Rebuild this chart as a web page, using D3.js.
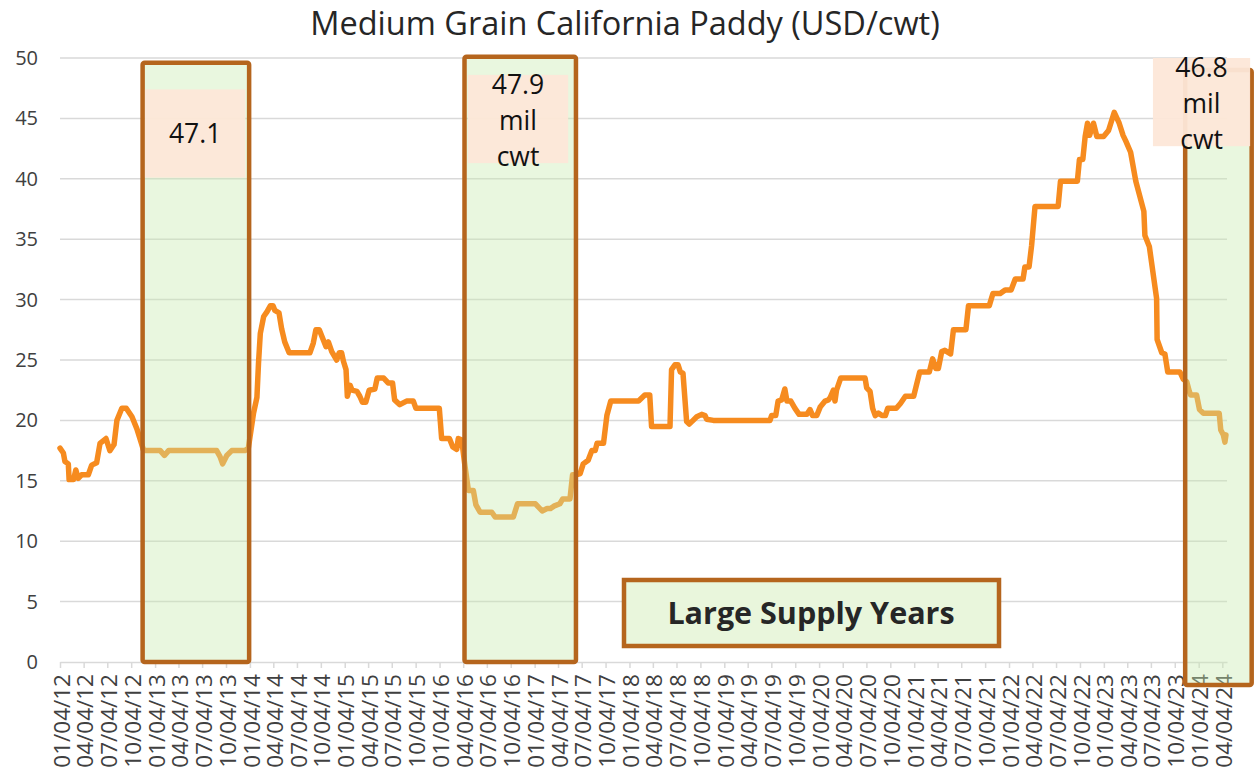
<!DOCTYPE html>
<html lang="en">
<head>
    <meta charset="UTF-8">
    <title>Medium Grain California Paddy</title>
    <script src="https://d3js.org/d3.v7.min.js"></script>
    <style>
        body { margin: 0; background: #fff; }
        text { font-family: "Open Sans", "Noto Sans", sans-serif; }
    </style>
</head>
<body>
    <script>
        // weekly-ish price points (USD/cwt)
        const dates = [
            "2012-01-04","2012-01-17","2012-01-23","2012-02-05","2012-02-08","2012-02-25","2012-03-05","2012-03-14",
            "2012-03-27","2012-04-22","2012-05-05","2012-05-24","2012-06-06","2012-06-29","2012-07-14","2012-07-30",
            "2012-08-10","2012-08-29","2012-09-15","2012-10-07","2012-10-26","2012-11-11","2012-11-21","2013-01-24",
            "2013-02-09","2013-02-25","2013-08-29","2013-09-11","2013-09-21","2013-10-07","2013-10-26","2013-12-16",
            "2013-12-29","2014-01-18","2014-01-31","2014-02-06","2014-02-13","2014-02-26","2014-03-11","2014-03-24",
            "2014-04-03","2014-04-10","2014-04-26","2014-05-06","2014-05-18","2014-06-04","2014-08-23","2014-09-05",
            "2014-09-15","2014-09-28","2014-10-11","2014-10-24","2014-11-02","2014-11-15","2014-12-04","2014-12-14",
            "2014-12-23","2014-12-30","2015-01-09","2015-01-14","2015-01-25","2015-02-01","2015-02-20","2015-03-03",
            "2015-03-13","2015-03-26","2015-04-08","2015-04-30","2015-05-09","2015-06-03","2015-06-20","2015-07-07",
            "2015-07-15","2015-08-04","2015-08-30","2015-09-25","2015-10-05","2016-01-03","2016-01-12","2016-02-11",
            "2016-02-24","2016-03-10","2016-03-16","2016-03-29","2016-04-11","2016-04-24","2016-05-13","2016-05-23",
            "2016-06-08","2016-07-23","2016-08-05","2016-10-14","2016-10-30","2017-01-07","2017-02-02","2017-02-21",
            "2017-03-06","2017-03-19","2017-04-11","2017-04-22","2017-05-20","2017-05-30","2017-06-15","2017-06-28",
            "2017-07-10","2017-07-29","2017-08-12","2017-08-25","2017-09-01","2017-09-26","2017-10-09","2017-10-24",
            "2018-02-08","2018-03-04","2018-03-23","2018-03-30","2018-06-09","2018-06-15","2018-06-28","2018-07-10",
            "2018-07-19","2018-07-29","2018-08-12","2018-08-22","2018-09-01","2018-09-20","2018-10-09","2018-10-22",
            "2018-10-28","2018-11-23","2019-06-29","2019-07-05","2019-07-21","2019-07-30","2019-08-13","2019-08-25",
            "2019-09-02","2019-09-17","2019-10-03","2019-10-19","2019-11-18","2019-11-30","2019-12-10","2019-12-26",
            "2020-01-08","2020-01-27","2020-02-09","2020-02-16","2020-02-28","2020-03-05","2020-03-11","2020-03-27",
            "2020-06-29","2020-07-05","2020-07-18","2020-07-28","2020-08-07","2020-08-19","2020-09-02","2020-09-15",
            "2020-09-24","2020-10-27","2020-11-12","2020-12-01","2021-01-02","2021-01-25","2021-03-03","2021-03-16",
            "2021-03-28","2021-04-07","2021-04-20","2021-05-02","2021-05-24","2021-06-04","2021-07-22","2021-08-01",
            "2021-10-20","2021-11-03","2021-12-01","2021-12-20","2022-01-12","2022-01-28","2022-02-27","2022-03-06",
            "2022-03-22","2022-04-01","2022-04-14","2022-07-12","2022-07-21","2022-09-24","2022-10-02","2022-10-15",
            "2022-10-24","2022-11-02","2022-11-10","2022-11-25","2022-12-08","2023-01-03","2023-01-22","2023-02-13",
            "2023-03-04","2023-03-19","2023-03-30","2023-04-17","2023-05-07","2023-06-07","2023-06-11","2023-06-28",
            "2023-07-26","2023-07-28","2023-08-15","2023-08-27","2023-09-07","2023-10-24","2023-11-06","2023-11-19",
            "2023-11-29","2023-12-04","2023-12-27","2024-01-07","2024-01-22","2024-03-23","2024-03-29","2024-04-08",
            "2024-04-14","2024-04-18"
        ];
        const prices = [
            17.7,17.3,16.6,16.4,15.1,15.1,15.9,15.2,
            15.5,15.5,16.3,16.5,18.1,18.5,17.5,18.0,
            20.0,21.0,21.0,20.3,19.3,18.2,17.5,17.5,
            17.1,17.5,17.5,17.0,16.4,17.1,17.5,17.5,
            17.7,20.6,21.9,24.7,27.2,28.6,29.0,29.5,
            29.5,29.1,28.9,27.6,26.5,25.6,25.6,26.4,
            27.5,27.5,26.8,26.1,26.5,25.7,25.0,25.6,
            25.6,24.9,24.2,22.0,22.9,22.5,22.4,22.0,
            21.5,21.5,22.5,22.6,23.5,23.5,23.1,23.1,
            21.7,21.3,21.6,21.6,21.0,21.0,18.5,18.5,
            17.8,17.6,18.5,18.4,16.2,14.2,14.2,13.0,
            12.4,12.4,12.0,12.0,13.1,13.1,12.5,12.7,
            12.7,12.9,13.1,13.5,13.5,15.5,15.5,15.6,
            16.4,16.7,17.5,17.5,18.1,18.1,20.4,21.6,
            21.6,22.1,22.1,19.5,19.5,24.2,24.6,24.6,
            24.0,23.9,19.9,19.7,19.9,20.3,20.5,20.4,
            20.1,20.0,20.0,20.4,20.4,21.6,21.7,22.6,
            21.6,21.6,21.0,20.5,20.5,20.9,20.4,20.4,
            21.1,21.6,21.7,21.9,22.5,21.6,22.5,23.5,
            23.5,22.7,22.4,21.0,20.4,20.6,20.4,20.4,
            21.0,21.0,21.4,22.0,22.0,24.0,24.0,25.1,
            24.3,24.3,25.7,25.8,25.5,27.5,27.5,29.5,
            29.5,30.5,30.5,30.8,30.8,31.7,31.7,32.7,
            32.7,34.5,37.7,37.7,39.8,39.8,41.6,41.6,
            43.5,44.6,43.6,44.6,43.5,43.5,44.0,45.5,
            44.6,43.6,43.1,42.2,39.8,37.3,35.3,34.4,
            30.1,26.7,25.6,25.5,24.0,24.0,23.4,23.2,
            22.4,22.1,22.1,20.9,20.6,20.6,19.2,18.8,
            18.2,18.8
        ];

        // large supply years (shaded boxes) and their crop size notes
        const supplyStart = ["2012-11-17", "2016-04-09", "2023-11-13"];
        const supplyEnd   = ["2014-01-01", "2017-06-12", "2024-07-26"];
        const supplyTop   = [49.6, 50.1, 49.0];
        const supplyBottom = [0, 0, -1.9];
        const cropLabels  = [["47.1"], ["47.9", "mil", "cwt"], ["46.8", "mil", "cwt"]];

        const yTicks = [0, 5, 10, 15, 20, 25, 30, 35, 40, 45, 50];
        const firstTick = "2012-01-04";
        const tickCount = 50; // quarterly labels 01/04/12 .. 04/04/24

        const width = 1255, height = 769;
        const parse = d3.timeParse("%Y-%m-%d");
        const fmt = d3.timeFormat("%m/%d/%y");

        const svg = d3.select("body").append("svg")
            .attr("width", width)
            .attr("height", height);

        const x = d3.scaleTime()
            .domain([parse("2012-01-04"), parse("2024-04-22")])
            .range([60, 1227]);
        const y = d3.scaleLinear()
            .domain([0, 50])
            .range([662, 58]);

        // title
        svg.append("text")
            .attr("x", 625).attr("y", 35)
            .attr("text-anchor", "middle")
            .style("font-size", "32.5px")
            .style("fill", "#262626")
            .text("Medium Grain California Paddy (USD/cwt)");

        // horizontal gridlines
        svg.append("g")
            .selectAll("line")
            .data(yTicks.filter(d => d > 0))
            .join("line")
            .attr("x1", 60).attr("x2", 1227)
            .attr("y1", d => y(d)).attr("y2", d => y(d))
            .attr("stroke", "#d9d9d9")
            .attr("stroke-width", 1.5);

        // y axis labels
        const yAxis = svg.append("g")
            .attr("transform", "translate(60,0)")
            .call(d3.axisLeft(y).tickValues(yTicks).tickSize(0).tickPadding(22));
        yAxis.select(".domain").remove();
        yAxis.selectAll("text")
            .style("font-size", "20px")
            .style("fill", "#404040")
            .style("font-family", "'Open Sans', sans-serif");

        // x axis
        const tickDates = d3.range(tickCount).map(i => d3.timeMonth.offset(parse(firstTick), 3 * i));
        const xAxis = svg.append("g")
            .attr("transform", `translate(0,${y(0)})`)
            .call(d3.axisBottom(x).tickValues(tickDates).tickFormat(fmt).tickSize(6).tickSizeOuter(0));
        xAxis.select(".domain").attr("stroke", "#d9d9d9").attr("stroke-width", 1.5);
        xAxis.selectAll(".tick line").attr("stroke", "#d9d9d9").attr("stroke-width", 1.5);
        xAxis.selectAll("text")
            .attr("transform", "rotate(-90)")
            .attr("text-anchor", "end")
            .attr("x", -12)
            .attr("y", 1)
            .attr("dy", "0.36em")
            .style("font-size", "22.5px")
            .style("fill", "#404040")
            .style("font-family", "'Open Sans', sans-serif");

        // price line
        const series = dates.map((d, i) => ({ date: parse(d), value: prices[i] }));
        const line = d3.line()
            .x(d => x(d.date))
            .y(d => y(d.value));

        svg.append("path")
            .datum(series)
            .attr("d", line)
            .attr("fill", "none")
            .attr("stroke", "#f68b1f")
            .attr("stroke-width", 5.5)
            .attr("stroke-linejoin", "round")
            .attr("stroke-linecap", "round");

        // large supply boxes drawn over the line
        const boxes = supplyStart.map((s, i) => ({
            x0: x(parse(s)), x1: x(parse(supplyEnd[i])),
            y0: y(supplyTop[i]), y1: y(supplyBottom[i]),
            lines: cropLabels[i]
        }));

        const boxG = svg.append("g");
        boxG.selectAll("rect.fill")
            .data(boxes)
            .join("rect")
            .attr("class", "fill")
            .attr("x", d => d.x0).attr("y", d => d.y0)
            .attr("width", d => d.x1 - d.x0).attr("height", d => d.y1 - d.y0)
            .attr("fill", "#c9eab0")
            .attr("fill-opacity", 0.4);
        boxG.selectAll("rect.edge")
            .data(boxes)
            .join("rect")
            .attr("class", "edge")
            .attr("x", d => d.x0).attr("y", d => d.y0)
            .attr("width", d => d.x1 - d.x0).attr("height", d => d.y1 - d.y0)
            .attr("rx", 2)
            .attr("fill", "none")
            .attr("stroke", "#b5651d")
            .attr("stroke-width", 4.5);

        // crop size notes (pink text boxes)
        const noteX0 = [d3.timeDay.offset(parse(supplyStart[0]), 9), d3.timeDay.offset(parse(supplyStart[1]), 13), parse("2023-07-12")];
        const noteX1 = [d3.timeDay.offset(parse(supplyEnd[0]), -15), d3.timeDay.offset(parse(supplyEnd[1]), -30), parse("2024-07-20")];
        const noteTop = [47.4, 48.6, 50.0];
        const noteBottom = [40.1, 41.3, 42.7];

        boxes.forEach((b, i) => {
            const nx0 = x(noteX0[i]), nx1 = x(noteX1[i]);
            const ny0 = y(noteTop[i]), ny1 = y(noteBottom[i]);
            svg.append("rect")
                .attr("x", nx0).attr("y", ny0)
                .attr("width", nx1 - nx0).attr("height", ny1 - ny0)
                .attr("fill", "#fde7d8")
                .attr("fill-opacity", 0.95);
            const cx = (nx0 + nx1) / 2;
            const n = b.lines.length;
            const lineH = 36;
            const cy = n === 1 ? (ny0 + ny1) / 2 : ny0 + 10;
            b.lines.forEach((t, j) => {
                svg.append("text")
                    .attr("x", cx)
                    .attr("y", n === 1 ? cy : cy + j * lineH)
                    .attr("dy", "0.35em")
                    .attr("text-anchor", "middle")
                    .style("font-size", "26.5px")
                    .style("fill", "#111")
                    .text(t);
            });
        });

        // legend box
        const lg = svg.append("g");
        lg.append("rect")
            .attr("x", 624).attr("y", 580)
            .attr("width", 375).attr("height", 66)
            .attr("fill", "#e9f6dc")
            .attr("stroke", "#b5651d")
            .attr("stroke-width", 4.5);
        lg.append("text")
            .attr("x", 811).attr("y", 613)
            .attr("dy", "0.35em")
            .attr("text-anchor", "middle")
            .style("font-size", "30.5px")
            .style("font-weight", "bold")
            .style("fill", "#262626")
            .text("Large Supply Years");
    </script>
</body>
</html>
